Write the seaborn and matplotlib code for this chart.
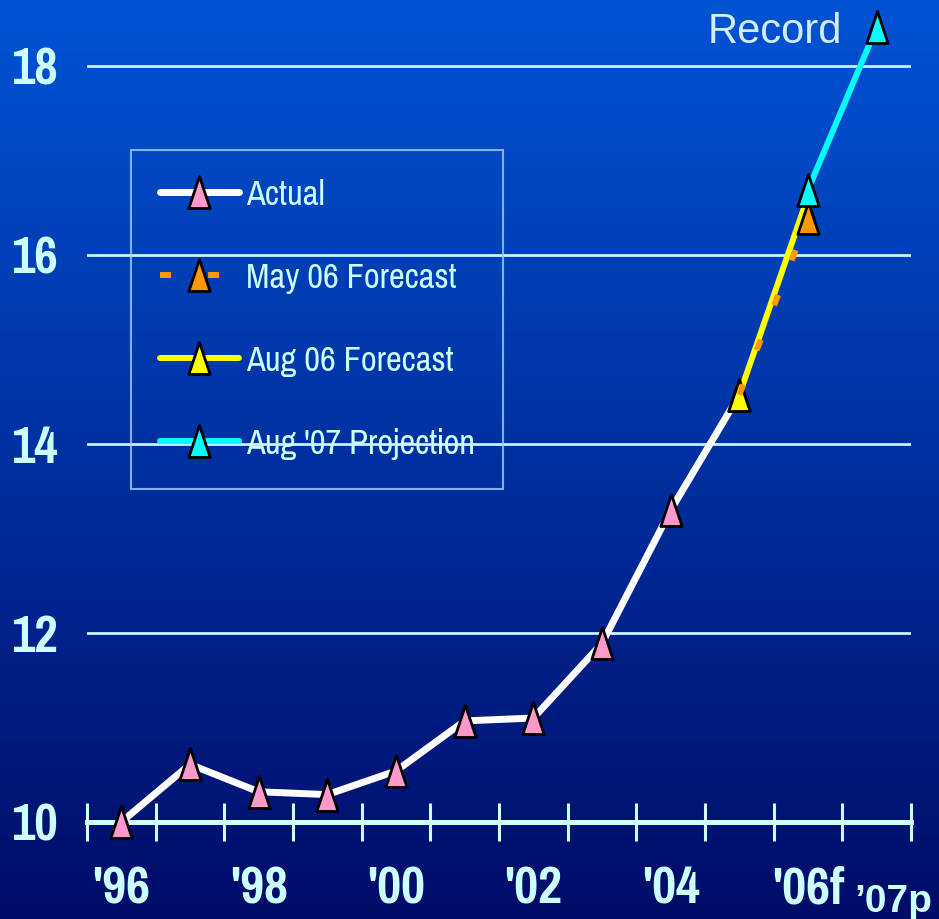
import numpy as np
import pandas as pd
import matplotlib
matplotlib.use("Agg")
import matplotlib.pyplot as plt
from matplotlib import font_manager as fm
from matplotlib.path import Path
import seaborn as sns

# ---- data -------------------------------------------------------------
years = ["'96", "'97", "'98", "'99", "'00", "'01", "'02", "'03", "'04", "'05", "'06", "'07"]
actual = [10.0, 10.61, 10.32, 10.29, 10.54, 11.07, 11.10, 11.89, 13.30, 14.52]
may06_years = ["'05", "'06"]
may06 = [14.52, 16.39]
aug06_years = ["'05", "'06"]
aug06 = [14.52, 16.62]
aug07_years = ["'06", "'07"]
aug07 = [16.69, 18.41]
tick_years = ["'96", "'98", "'00", "'02", "'04", "'06"]
tick_labels = ["'96", "'98", "'00", "'02", "'04", "'06f"]
last_label = "\u201907p"
y_ticks = [10, 12, 14, 16, 18]

pos = {y: i for i, y in enumerate(years)}

sns.set_theme(style="white")
names = {f.name for f in fm.fontManager.ttflist}
narrow_choices = ["Liberation Sans Narrow", "Arial Narrow", "Pragati Narrow",
                  "Archivo Narrow", "PT Sans Narrow", "Roboto Condensed",
                  "Encode Sans Condensed", "Fira Sans Condensed",
                  "IBM Plex Sans Condensed", "Open Sans Condensed"]
NARROW = next((n for n in narrow_choices if n in names), "DejaVu Sans")
REG = "Liberation Sans" if "Liberation Sans" in names else "DejaVu Sans"
plt.rcParams["font.family"] = [REG, "DejaVu Sans"]

TXT = "#ccffff"
W, H = 939, 919
fig = plt.figure(figsize=(W / 100, H / 100), dpi=100)

# vertical blue gradient background
bg = fig.add_axes([0, 0, 1, 1], zorder=-10)
t = np.linspace(0, 1, 400)[:, None, None]
top = np.array([0, 84, 214]) / 255
mid = np.array([0, 48, 160]) / 255
bot = np.array([0, 12, 104]) / 255
grad = np.where(t < 0.5, top + (mid - top) * (t / 0.5),
                mid + (bot - mid) * ((t - 0.5) / 0.5))
grad = np.repeat(grad, 2, axis=1)
bg.imshow(grad, aspect="auto", extent=[0, 1, 0, 1])
bg.set_axis_off()

# plotting area
x0, x1 = 87 / W, 911 / W
y0 = (H - 822) / H
ax = fig.add_axes([x0, y0, x1 - x0, 1 - y0])
ax.patch.set_alpha(0)
ax.set_xlim(-0.5, 11.5)
ax.set_ylim(10, 10 + 822 / 94.5)

tri = Path([(0, 1), (-0.667, -1), (0.667, -1), (0, 1)],
           [Path.MOVETO, Path.LINETO, Path.LINETO, Path.CLOSEPOLY])

common = dict(marker=tri, markersize=23, markeredgecolor="black",
              markeredgewidth=2, clip_on=False, ax=ax)

df_act = pd.DataFrame({"x": [pos[y] for y in years[:len(actual)]], "v": actual})
sns.lineplot(data=df_act, x="x", y="v", color="white", lw=5,
             markerfacecolor="#ff99cc", label="Actual", zorder=3, **common)

df_may = pd.DataFrame({"x": [pos[y] for y in may06_years], "v": may06})
sns.lineplot(data=df_may, x="x", y="v", color="#ff9900", lw=4.3,
             linestyle=(0, (1.85, 6.2)), dash_capstyle="butt",
             markerfacecolor="#ff9900", markevery=[1],
             label="May 06 Forecast", zorder=4, **common)

df_aug = pd.DataFrame({"x": [pos[y] for y in aug06_years], "v": aug06})
sns.lineplot(data=df_aug, x="x", y="v", color="#ffff00", lw=4.3,
             markerfacecolor="#ffff00", markevery=[0],
             label="Aug 06 Forecast", zorder=4, **common)

df_p = pd.DataFrame({"x": [pos[y] for y in aug07_years], "v": aug07})
sns.lineplot(data=df_p, x="x", y="v", color="#00ffff", lw=4.3,
             markerfacecolor="#00ffff", label="Aug '07 Projection",
             zorder=6, **common)

# orange marker sits on the yellow line but under the cyan marker
lines = ax.get_lines()
lines[1].set_zorder(5)
lines[2].set_zorder(4.5)

# axes styling
for s in ["left", "right", "top"]:
    ax.spines[s].set_visible(False)
ax.spines["bottom"].set_color(TXT)
ax.spines["bottom"].set_linewidth(3.6)
ax.spines["bottom"].set_zorder(2)

ax.set_xticks([pos[y] for y in tick_years])
ax.set_xticklabels(tick_labels)
ax.set_xticks(np.arange(-0.5, 12, 1), minor=True)
ax.tick_params(axis="x", which="major", length=0, pad=31, bottom=True)
ax.tick_params(axis="x", which="minor", direction="inout", length=28,
               width=2.2, color=TXT, bottom=True)
for lab in ax.get_xticklabels():
    lab.set_fontfamily([NARROW, "DejaVu Sans"])
    lab.set_fontweight("bold")
    lab.set_fontsize(41)
    lab.set_color(TXT)

ax.set_yticks(y_ticks)
ax.set_yticklabels([str(v) for v in y_ticks])
ax.tick_params(axis="y", length=0, pad=21, left=True)
for lab in ax.get_yticklabels():
    lab.set_fontfamily([NARROW, "DejaVu Sans"])
    lab.set_fontweight("bold")
    lab.set_fontsize(40)
    lab.set_color(TXT)

ax.yaxis.grid(True, color="#c8f4ff", lw=2.0, zorder=1)
ax.xaxis.grid(False)
ax.set_axisbelow(True)
ax.set_xlabel("")
ax.set_ylabel("")

ax.annotate(last_label, xy=(pos["'07"], 10), xytext=(12, -65),
            textcoords="offset points", ha="center", va="baseline",
            fontsize=28, fontweight="bold", color=TXT,
            family=[REG, "DejaVu Sans"], annotation_clip=False)

ax.annotate("Record", xy=(pos["'07"], aug07[-1]), xytext=(-73, -11),
            textcoords="offset points", ha="center", va="baseline",
            fontsize=30, color="#d4ecff", family=[REG, "DejaVu Sans"],
            annotation_clip=False)

handles, labels = ax.get_legend_handles_labels()
leg = ax.legend(handles, labels, loc="upper left",
                bbox_to_anchor=(131 / W, 1 - 150 / H),
                bbox_transform=fig.transFigure, borderaxespad=0,
                frameon=True, fancybox=False, facecolor="none",
                edgecolor="#a8ccff", handlelength=2.13,
                handletextpad=0.17, labelspacing=1.36, borderpad=0.76,
                prop={"family": [NARROW, "DejaVu Sans"], "size": 27})
leg.get_frame().set_linewidth(1.5)
leg.set_zorder(10)
for txt in leg.get_texts():
    txt.set_color(TXT)

fig.savefig("out.png", dpi=100)
